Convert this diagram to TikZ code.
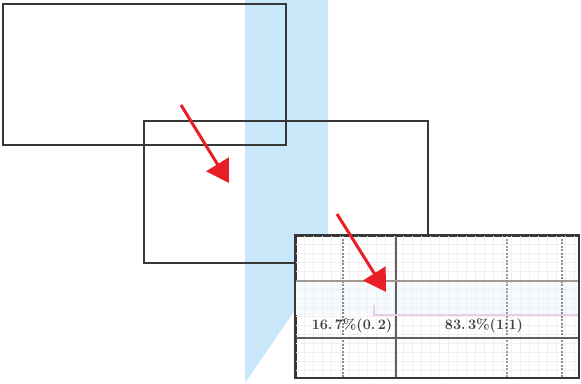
\documentclass[tikz,border=0pt]{standalone}
\usepackage{tikz}
\usetikzlibrary{arrows.meta}
\definecolor{bandblue}{RGB}{200,232,250}
\definecolor{arrowred}{RGB}{232,30,40}
\definecolor{framegray}{RGB}{55,55,55}
\definecolor{rulepink}{RGB}{232,204,232}
\definecolor{faintgrid}{RGB}{243,238,240}
\definecolor{rulebrown}{RGB}{160,150,146}
\definecolor{tintcyan}{RGB}{245,250,252}

\begin{document}
\begin{tikzpicture}[x=1pt, y=-1pt,
		frame/.style={draw=framegray, line width=1.6pt, inner sep=0pt, anchor=north west},
		pointer/.style={arrowred, line width=3pt, -{Triangle[length=22pt, width=26pt]}},
		cell/.style={font=\Large\bfseries, text=black!75, inner sep=0pt}]
		\useasboundingbox (0,0) rectangle (581,383);
		\fill[bandblue] (245,0) -- (328,0) -- (328,262) -- (245,383) -- cycle;
		\node[frame, minimum width=283pt, minimum height=141pt] (upper) at (2,3) {};
		\node[frame, minimum width=284pt, minimum height=142pt] (middle) at (143,120) {};
		\coordinate (tailA) at (181,105);
		\coordinate (tipA) at (229,183);
		\draw[pointer] (tailA) -- (tipA);
		
		% scanned table
		\node[frame, fill=white, minimum width=283pt, minimum height=142pt] (inset) at (295,235) {};
		\begin{scope}
			\clip (inset.north west) rectangle (inset.south east);
			\fill[tintcyan] (296,282) rectangle (577,315);
			\foreach \gx in {304,313,...,577} \draw[faintgrid, line width=0.6pt] (\gx,235) -- (\gx,377);
			\foreach \gy in {244,253,...,377} \draw[faintgrid, line width=0.6pt] (295,\gy) -- (578,\gy);
			\draw[black!45, line width=1.2pt, dash pattern=on 2pt off 1.5pt] (343,235) -- (343,377);
			\draw[black!40, line width=1.2pt, dash pattern=on 2pt off 1.5pt] (507,235) -- (507,377);
			\draw[black!45, line width=1.2pt, dash pattern=on 2pt off 1.5pt] (562,235) -- (562,377);
			\draw[framegray!80, line width=1.5pt] (396,235) -- (396,377);
			\draw[rulebrown, line width=1.8pt] (295,281) -- (578,281);
			\draw[framegray!80, line width=1.4pt] (295,338) -- (578,338);
			\draw[rulepink, line width=1.3pt] (374,305) -- (374,315) -- (578,315);
			\node[cell] (left share) at (352,326) {16.\,7\%(0.\,2)};
			\node[cell] (right share) at (484,326) {83.\,3\%(1:1)};
		\end{scope}
		\draw[framegray, line width=1.6pt] (inset.north west) rectangle (inset.south east);
		
		\coordinate (tailB) at (337,214);
		\coordinate (tipB) at (386,292);
		\draw[pointer] (tailB) -- (tipB);
	\end{tikzpicture}
\end{document}
